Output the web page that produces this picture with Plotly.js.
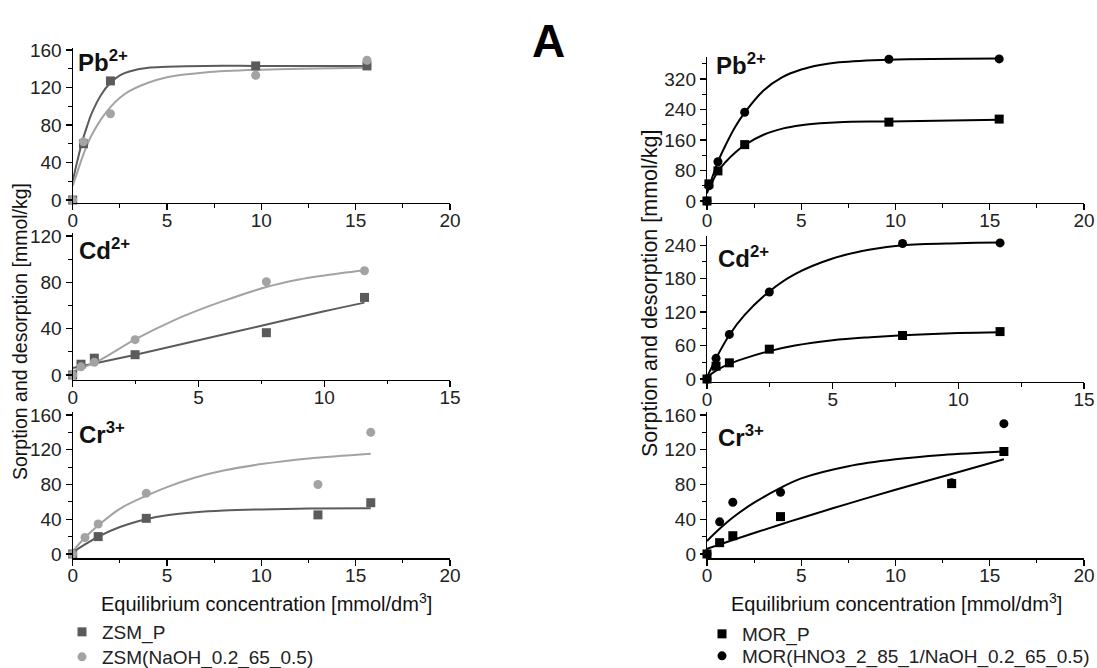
<!DOCTYPE html>
<html>
<head>
<meta charset="utf-8">
<script src="https://cdn.plot.ly/plotly-3.0.1.min.js"></script>
<style>html,body{margin:0;padding:0;background:#fff;}#chart{width:1097px;height:668px;}</style>
</head>
<body>
<div id="chart"></div>
<script>
// ---------- Data ----------
// Left column: ZSM samples
const zsmPbX = [0, 0.57, 2.0, 9.7, 15.6];
const zsmP_Pb = [0, 60, 127, 143, 143];
const zsmNa_Pb = [0, 62, 92, 133, 149];
const zsmPbFitX = [0, 0.25, 0.5, 0.75, 1, 1.5, 2, 2.5, 3, 4, 5, 7, 10, 15.6];
const zsmP_PbFit = [20, 42, 62, 78, 92, 112, 125, 133, 137, 141, 142, 143, 143, 143];
const zsmNa_PbFit = [15, 30, 45, 58, 69, 86, 99, 109, 116, 125, 131, 136, 139, 141];

const zsmCdX = [0, 0.33, 0.86, 2.48, 7.7, 11.6];
const zsmP_Cd = [0, 9.3, 14.5, 17.5, 36.5, 67];
const zsmNa_Cd = [0, 7, 11, 30.5, 80.5, 90];
const zsmP_CdFitX = [0, 1, 2.5, 5, 7.5, 10, 11.6];
const zsmP_CdFit = [6, 10.5, 17.5, 30, 42.5, 55, 62.5];
const zsmNa_CdFitX = [0, 1, 2.5, 4, 5, 6, 7.7, 9, 10, 11.6];
const zsmNa_CdFit = [3, 12, 31, 47, 56, 64, 76, 82.5, 86, 90.5];

const zsmP_CrX = [0, 1.35, 3.9, 13, 15.8];
const zsmP_Cr = [0, 20, 41, 45, 59];
const zsmNa_CrX = [0, 0.65, 1.35, 3.9, 13, 15.8];
const zsmNa_Cr = [0, 19, 34.5, 70, 80, 140];
const zsmCrFitX = [0, 0.65, 1.36, 2.5, 3.9, 5, 6.5, 8, 10, 12.5, 15.8];
const zsmP_CrFit = [2, 11, 20, 31, 40, 44.5, 48, 50, 51.3, 52.2, 52.6];
const zsmNa_CrFit = [3, 19, 33, 52, 67, 77, 88, 96, 103.5, 110, 115.5];

// Right column: MOR samples
const morPbX = [0, 0.1, 0.58, 2.0, 9.65, 15.5];
const morP_Pb = [0, 45, 79, 148, 207, 215];
const morHN_Pb = [0, 40, 103, 233, 372, 373];
const morPbFitX = [0, 0.1, 0.58, 1, 1.5, 2, 3, 4, 5, 6, 7, 9.65, 15.5];
const morP_PbFit = [25, 32, 78, 103, 127, 147, 174, 190, 199, 204, 207, 209, 213];
const morHN_PbFit = [20, 36, 103, 148, 195, 232, 290, 325, 345, 357, 364, 371, 374];

const morCdX = [0, 0.36, 0.89, 2.48, 7.78, 11.66];
const morP_Cd = [0, 23, 29, 53.5, 78, 85];
const morHN_Cd = [0, 37, 80, 156, 243, 244];
const morCdFitX = [0, 0.36, 0.89, 1.5, 2.48, 3.5, 5, 6.5, 7.78, 10, 11.66];
const morP_CdFit = [3, 15, 27, 37, 50, 60, 69.5, 75, 78.5, 82.5, 84];
const morHN_CdFit = [3, 37, 79, 115, 157, 188, 216, 232, 240, 243.5, 244.5];

const morCrX = [0, 0.67, 1.37, 3.9, 12.98, 15.75];
const morP_Cr = [0, 13, 21, 43, 81, 118];
const morHN_Cr = [0, 37, 59.5, 71, 82, 150];
const morP_CrFitX = [0, 1.37, 3.9, 5, 7.5, 10, 12.98, 15.75];
const morP_CrFit = [6, 16, 34, 41.5, 58, 74, 92, 109];
const morHN_CrFitX = [0, 0.67, 1.37, 2.5, 3.9, 5, 7.5, 10, 12.5, 15.75];
const morHN_CrFit = [15, 29, 42, 59, 76, 87, 101, 109, 114, 118];

const seriesNames = ['ZSM_P', 'ZSM(NaOH_0.2_65_0.5)', 'MOR_P', 'MOR(HNO3_2_85_1/NaOH_0.2_65_0.5)'];
const ionLabels = ['Pb<sup>2+</sup>', 'Cd<sup>2+</sup>', 'Cr<sup>3+</sup>'];
const yTitle = 'Sorption and desorption [mmol/kg]';
const xTitle = 'Equilibrium concentration [mmol/dm<sup>3</sup>]';

// ---------- Styling ----------
const FONT = 'Liberation Sans, Arial, sans-serif';
const DARK = '#5b5b5b', LIGHT = '#a3a3a3', BLACK = '#000000';
const W = 1097, H = 668;
const px = v => v / W;
const py = v => 1 - v / H;

const traces = [];
function addPanel(ax, xs1, ys1, xs2, ys2, fx1, fy1, fx2, fy2, c1, c2, legs, names) {
  const xa = 'x' + ax, ya = 'y' + ax;
  traces.push({x: fx1, y: fy1, xaxis: xa, yaxis: ya, mode: 'lines', line: {color: c1, width: 2, shape: 'spline', smoothing: 1}, showlegend: false, hoverinfo: 'skip'});
  traces.push({x: fx2, y: fy2, xaxis: xa, yaxis: ya, mode: 'lines', line: {color: c2, width: 2, shape: 'spline', smoothing: 1}, showlegend: false, hoverinfo: 'skip'});
  traces.push({x: xs1, y: ys1, xaxis: xa, yaxis: ya, mode: 'markers', cliponaxis: false,
    marker: {symbol: 'square', size: 9, color: c1}, name: names[0], showlegend: !!names[0], legend: legs[0]});
  traces.push({x: xs2, y: ys2, xaxis: xa, yaxis: ya, mode: 'markers', cliponaxis: false,
    marker: {symbol: 'circle', size: 9, color: c2}, name: names[1], showlegend: !!names[1], legend: legs[1]});
}

const LL = ['legend', 'legend3'], RL = ['legend2', 'legend4'];
addPanel('', zsmPbX, zsmP_Pb, zsmPbX, zsmNa_Pb, zsmPbFitX, zsmP_PbFit, zsmPbFitX, zsmNa_PbFit, DARK, LIGHT, LL, [seriesNames[0], seriesNames[1]]);
addPanel('2', zsmCdX, zsmP_Cd, zsmCdX, zsmNa_Cd, zsmP_CdFitX, zsmP_CdFit, zsmNa_CdFitX, zsmNa_CdFit, DARK, LIGHT, LL, [null, null]);
addPanel('3', zsmP_CrX, zsmP_Cr, zsmNa_CrX, zsmNa_Cr, zsmCrFitX, zsmP_CrFit, zsmCrFitX, zsmNa_CrFit, DARK, LIGHT, LL, [null, null]);
addPanel('4', morPbX, morP_Pb, morPbX, morHN_Pb, morPbFitX, morP_PbFit, morPbFitX, morHN_PbFit, BLACK, BLACK, RL, [seriesNames[2], seriesNames[3]]);
addPanel('5', morCdX, morP_Cd, morCdX, morHN_Cd, morCdFitX, morP_CdFit, morCdFitX, morHN_CdFit, BLACK, BLACK, RL, [null, null]);
addPanel('6', morCrX, morP_Cr, morCrX, morHN_Cr, morP_CrFitX, morP_CrFit, morHN_CrFitX, morHN_CrFit, BLACK, BLACK, RL, [null, null]);

const TICKFONT = {family: FONT, size: 19, color: '#222'};
function xAx(dom, anchor, rmax) {
  return {domain: dom, anchor: anchor, range: [0, rmax], dtick: 5, tick0: 0,
    showline: true, linecolor: '#000', linewidth: 1.2, ticks: 'outside', ticklen: 6, tickwidth: 1.2, tickcolor: '#000',
    ticklabelstandoff: -6,
    minor: {dtick: 2.5, ticks: 'outside', ticklen: 3.5, tickwidth: 1, tickcolor: '#000', showgrid: false},
    showgrid: false, zeroline: false, tickfont: TICKFONT, fixedrange: true};
}
function yAx(dom, anchor, rng, dt) {
  return {domain: dom, anchor: anchor, range: rng, dtick: dt, tick0: 0,
    showline: true, linecolor: '#000', linewidth: 1.2, ticks: 'outside', ticklen: 6, tickwidth: 1.2, tickcolor: '#000',
    minor: {dtick: dt / 2, ticks: 'outside', ticklen: 3.5, tickwidth: 1, tickcolor: '#000', showgrid: false},
    showgrid: false, zeroline: false, tickfont: TICKFONT, fixedrange: true};
}

function ann(text, x, y, size, extra) {
  return Object.assign({text: text, x: px(x), y: py(y), xref: 'paper', yref: 'paper', showarrow: false,
    xanchor: 'left', yanchor: 'middle', font: {family: FONT, size: size, color: '#111'}}, extra || {});
}
function leg(x, yTop) {
  return {x: px(x), y: py(yTop), xanchor: 'left', yanchor: 'top', bgcolor: 'rgba(0,0,0,0)',
    font: {family: FONT, size: 19, color: '#222'}, itemclick: false, itemdoubleclick: false};
}

const LX = [px(72.7), px(450)], RX = [px(707), px(1084)];
const layout = {
  width: W, height: H, margin: {l: 0, r: 0, t: 0, b: 0, autoexpand: false},
  paper_bgcolor: '#fff', plot_bgcolor: 'rgba(0,0,0,0)',
  font: {family: FONT, color: '#222'},
  xaxis: xAx(LX, 'y', 20), yaxis: yAx([py(202.8), py(48.1)], 'x', [-3, 162], 40),
  xaxis2: xAx(LX, 'y2', 15), yaxis2: yAx([py(379.6), py(232.6)], 'x2', [-4, 123], 40),
  xaxis3: xAx(LX, 'y3', 20), yaxis3: yAx([py(558.3), py(412.4)], 'x3', [-5, 163], 40),
  xaxis4: xAx(RX, 'y4', 20), yaxis4: yAx([py(202.9), py(57)], 'x4', [-5, 378], 80),
  xaxis5: xAx(RX, 'y5', 15), yaxis5: yAx([py(381.8), py(236.2)], 'x5', [-5, 256], 60),
  xaxis6: xAx(RX, 'y6', 20), yaxis6: yAx([py(558.3), py(412.4)], 'x6', [-5, 163], 40),
  showlegend: true,
  legend: leg(62, 613),
  legend3: leg(62, 638),
  legend2: leg(702, 615),
  legend4: leg(702, 637),
  annotations: [
    ann('<b>A</b>', 548, 41, 46, {xanchor: 'center', font: {family: FONT, size: 46, color: '#000'}}),
    ann('<b>' + ionLabels[0] + '</b>', 76, 61, 24),
    ann('<b>' + ionLabels[1] + '</b>', 77, 249, 24),
    ann('<b>' + ionLabels[2] + '</b>', 77, 433, 24),
    ann('<b>' + ionLabels[0] + '</b>', 714, 64, 24),
    ann('<b>' + ionLabels[1] + '</b>', 716, 257, 24),
    ann('<b>' + ionLabels[2] + '</b>', 716, 436, 24),
    ann(yTitle, 20, 332, 19.5, {textangle: -90, xanchor: 'center'}),
    ann(yTitle, 650, 294, 21.5, {textangle: -90, xanchor: 'center'}),
    ann(xTitle, 266, 602, 20, {xanchor: 'center'}),
    ann(xTitle, 896, 602, 20, {xanchor: 'center'})
  ]
};

Plotly.newPlot('chart', traces, layout, {staticPlot: true, displayModeBar: false});
</script>
</body>
</html>
